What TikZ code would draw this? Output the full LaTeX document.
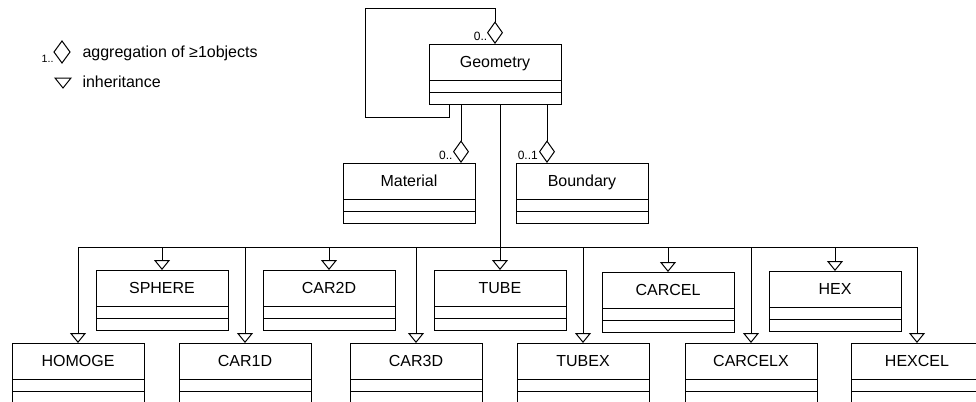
\documentclass[tikz,border=0pt]{standalone}
\usepackage{fontspec}
\setmainfont{Liberation Sans}
\usetikzlibrary{arrows.meta}
\tikzset{
  classbox/.style={draw, rectangle, minimum width=99pt, minimum height=27pt, inner sep=0pt, outer sep=0pt, text height=8.6pt, text depth=0pt, font=\fontsize{12}{14}\selectfont},
  inh/.style={-{Triangle[open,length=7.5pt,width=12pt]}},
  agg/.style={-{Diamond[open,length=17pt,width=12pt]}},
  mult/.style={font=\fontsize{9}{10}\selectfont, inner sep=0pt, anchor=base east},
  legmult/.style={font=\fontsize{8}{9}\selectfont, inner sep=0pt, anchor=base east},
  legtext/.style={font=\fontsize{12}{14}\selectfont, inner sep=0pt, anchor=base west},
}
\newcommand{\umlbox}[4]{%
  \node[classbox, anchor=north west] (#1) at (#2,#3) {#4};
  \draw ([yshift=-9pt]#1.south west) -- ([yshift=-9pt]#1.south east);
  \draw (#1.south west) rectangle ([yshift=-18pt]#1.south east);
  \coordinate (#1-b) at ([yshift=-18pt]#1.south);
}
\begin{document}
\begin{tikzpicture}[x=0.75pt,y=-0.75pt,line width=0.75pt]
\useasboundingbox (0,0) rectangle (976,401);
\clip (0,0) rectangle (976,401);
% legend
\draw (62,41) -- (70,52) -- (62,63) -- (54,52) -- cycle;
\node[legmult] (legm) at (54,62) {1..};
\node[legtext] (legagg) at (82,57) {aggregation of ≥1objects};
\draw (55,78) -- (71,78) -- (63,88) -- cycle;
\node[legtext] (leginh) at (82,87) {inheritance};
% classes
\umlbox{geometry}{429}{44}{Geometry}
\umlbox{material}{343}{163}{Material}
\umlbox{boundary}{516}{163}{Boundary}
\umlbox{sphere}{96}{270}{SPHERE}
\umlbox{car2d}{263}{270}{CAR2D}
\umlbox{tube}{434}{270}{TUBE}
\umlbox{carcel}{602}{272}{CARCEL}
\umlbox{hex}{769}{271}{HEX}
\umlbox{homoge}{12}{343}{HOMOGE}
\umlbox{car1d}{179}{343}{CAR1D}
\umlbox{car3d}{350}{343}{CAR3D}
\umlbox{tubex}{517}{343}{TUBEX}
\umlbox{carcelx}{685}{343}{CARCELX}
\umlbox{hexcel}{851}{343}{HEXCEL}
% self aggregation
\path (geometry-b -| geometry.west) ++(20,0) coordinate (gl);
\draw[agg] (gl) -- ++(0,13) -| (365,8) -| (geometry.north);
\node[mult] (gmult) at ([xshift=-5.5pt,yshift=3pt]geometry.north) {0..};
% aggregations
\path (material.north east) ++(-14,0) coordinate (magg);
\path (boundary.north west) ++(31,0) coordinate (bagg);
\draw[agg] (magg |- geometry-b) -- (magg);
\draw[agg] (bagg |- geometry-b) -- (bagg);
\node[mult] (mmult) at ([xshift=-6pt,yshift=3pt]magg) {0..};
\node[mult] (bmult) at ([xshift=-6.5pt,yshift=3pt]bagg) {0..1};
% inheritance
\coordinate (bus) at (0,247);
\draw[inh] (tube.north |- geometry-b) -- (tube.north);
\draw (bus -| homoge.north) -- (bus -| hexcel.north);
\foreach \n in {sphere,car2d,carcel,hex,homoge,car1d,car3d,tubex,carcelx,hexcel}
  \draw[inh] (bus -| \n.north) -- (\n.north);
\end{tikzpicture}
\end{document}
